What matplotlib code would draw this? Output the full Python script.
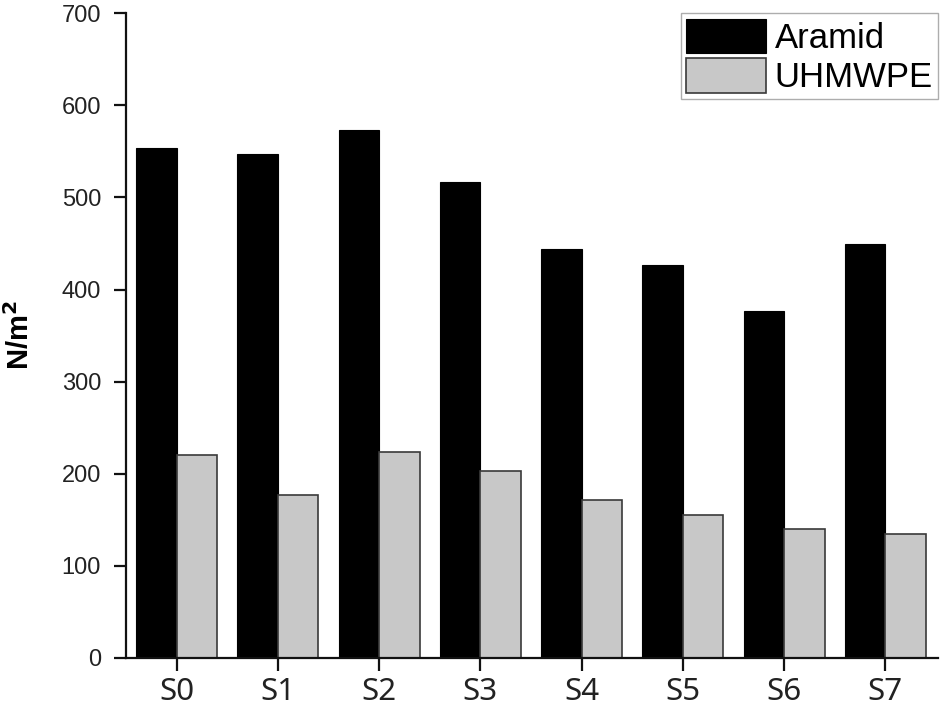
import numpy as np
import matplotlib
matplotlib.use('Agg')
import matplotlib.pyplot as plt

# data
samples = ['S0', 'S1', 'S2', 'S3', 'S4', 'S5', 'S6', 'S7']
aramid = [554, 547, 573, 517, 444, 427, 377, 449]
uhmwpe = [220, 177, 223, 203, 171, 155, 140, 134]

plt.rcParams['font.family'] = ['Liberation Sans', 'DejaVu Sans']

fig = plt.figure(figsize=(9.46, 7.08), dpi=100)
ax = fig.add_axes([0.1332, 0.0712, 0.8583, 0.9098])

x = np.arange(len(samples))
w = 0.4
ax.bar(x - w / 2, aramid, w, color='black', edgecolor='black', linewidth=0.8,
       label='Aramid')
ax.bar(x + w / 2, uhmwpe, w, color='#c8c8c8', edgecolor='#3a3a3a', linewidth=1.2,
       label='UHMWPE')

ax.set_xlim(-0.5, 7.52)
ax.set_ylim(0, 700)
ax.set_yticks(np.arange(0, 701, 100))
ax.set_xticks(x)
ax.set_xticklabels(samples, family=['Noto Sans', 'DejaVu Sans'], fontsize=22.5)

for s in ['top', 'right']:
    ax.spines[s].set_visible(False)
for s in ['left', 'bottom']:
    ax.spines[s].set_linewidth(1.6)
    ax.spines[s].set_color('#111111')

ax.tick_params(axis='y', direction='out', length=9, width=1.6, pad=9,
               labelsize=17, colors='#111111', labelcolor='#222222')
ax.tick_params(axis='x', direction='out', length=9, width=1.6, pad=5,
               colors='#111111', labelcolor='#222222')

ax.set_ylabel('N/m$^\\mathbf{2}$', fontsize=21, fontweight='bold')
ax.yaxis.set_label_coords(-0.112, 0.5)

leg = ax.legend(loc='upper right', bbox_to_anchor=(1.0, 1.0), fontsize=25,
                frameon=True, fancybox=False, edgecolor='#999999',
                handlelength=2.3, handleheight=1.15, handletextpad=0.25,
                labelspacing=0.1, borderpad=0.15, borderaxespad=0.0)
leg.get_frame().set_linewidth(1.0)

fig.savefig('out.png', dpi=100, facecolor='white')
